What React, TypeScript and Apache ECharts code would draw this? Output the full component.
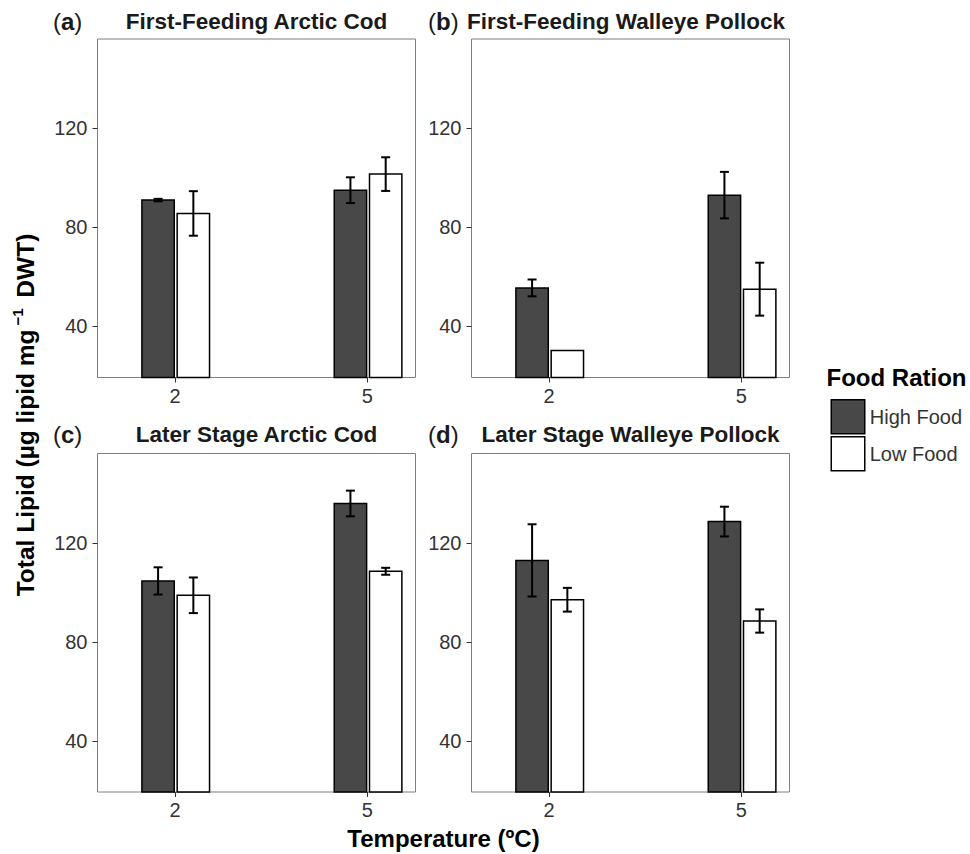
import React, { useEffect, useRef } from 'react';
import * as echarts from 'echarts';

const FONT = "'Liberation Sans', Arial, Helvetica, sans-serif";

// ---- data ----
const temperatures = [2, 5];
const panelLetters = ['a', 'b', 'c', 'd'];
const panelTitles = [
  'First-Feeding Arctic Cod',
  'First-Feeding Walleye Pollock',
  'Later Stage Arctic Cod',
  'Later Stage Walleye Pollock',
];
const rations = ['High Food', 'Low Food'];
// per panel, values at [2 ºC, 5 ºC]
const highFoodMeans = [[91.0, 95.0], [55.5, 93.0], [104.6, 135.9], [112.9, 128.6]];
const highFoodErrors = [[0.5, 5.2], [3.4, 9.4], [5.5, 5.2], [14.6, 6.0]];
const lowFoodMeans = [[85.6, 101.5], [30.2, 55.0], [98.8, 108.5], [97.0, 88.4]];
const lowFoodErrors = [[9.0, 6.8], [0, 10.7], [7.2, 1.4], [4.8, 4.7]];
const yTicks = [40, 80, 120];

// ---- layout / style ----
const DARK = '#484848';
const gridLefts = [97.5, 471.5, 97.5, 471.5];
const gridTops = [39, 39, 453.5, 453.5];
const GRID_W = 318;
const GRID_H = 338.5;
const X_MIN = 0.79;
const X_MAX = 5.75;
const Y_MIN = 19.3;
const Y_MAX = 156.1;
const BAR_W = 0.505;
const offsets = [-0.265, 0.285];
const fills = [DARK, '#ffffff'];
const titleCenters = [256.5, 626, 256.5, 630.5];
const titleYs = [21, 21, 434, 434];

const makeRender = (offset: number, fill: string) => (params: any, api: any) => {
  const x = api.value(0);
  const v = api.value(1);
  const e = api.value(2);
  const cs = params.coordSys;
  const bottom = cs.y + cs.height;
  const topPt = api.coord([x + offset, v]);
  const left = api.coord([x + offset - BAR_W / 2, v])[0];
  const right = api.coord([x + offset + BAR_W / 2, v])[0];
  const children: any[] = [
    {
      type: 'rect',
      shape: { x: left, y: topPt[1], width: right - left, height: bottom - topPt[1] },
      style: { fill, stroke: '#000', lineWidth: 1.5 },
    },
  ];
  if (e > 0) {
    const hi = api.coord([x + offset, v + e])[1];
    const lo = api.coord([x + offset, v - e])[1];
    const cx = topPt[0];
    const cap = 4.5;
    const ls = { stroke: '#000', lineWidth: 2 };
    children.push(
      { type: 'line', shape: { x1: cx, y1: hi, x2: cx, y2: lo }, style: ls },
      { type: 'line', shape: { x1: cx - cap, y1: hi, x2: cx + cap, y2: hi }, style: ls },
      { type: 'line', shape: { x1: cx - cap, y1: lo, x2: cx + cap, y2: lo }, style: ls }
    );
  }
  return { type: 'group', children };
};

function buildOption() {
  const grid = gridLefts.map((l, i) => ({
    left: l,
    top: gridTops[i],
    width: GRID_W,
    height: GRID_H,
    show: true,
    borderColor: '#7f7f7f',
    borderWidth: 1,
    backgroundColor: 'transparent',
  }));
  const xAxis = gridLefts.map((_, i) => ({
    type: 'value',
    gridIndex: i,
    min: X_MIN,
    max: X_MAX,
    splitLine: { show: false },
    axisLine: { show: false },
    axisTick: { show: true, customValues: temperatures, length: 5, lineStyle: { color: '#333', width: 1 } },
    axisLabel: { customValues: temperatures, fontSize: 20, color: '#333', margin: 8, fontFamily: FONT },
  }));
  const yAxis = gridLefts.map((_, i) => ({
    type: 'value',
    gridIndex: i,
    min: Y_MIN,
    max: Y_MAX,
    splitLine: { show: false },
    axisLine: { show: false },
    axisTick: { show: true, customValues: yTicks, length: 5, lineStyle: { color: '#333', width: 1 } },
    axisLabel: { customValues: yTicks, fontSize: 20, color: '#333', margin: 10, fontFamily: FONT },
  }));
  const series: any[] = [];
  for (let i = 0; i < 4; i++) {
    const groups = [
      [highFoodMeans[i], highFoodErrors[i]],
      [lowFoodMeans[i], lowFoodErrors[i]],
    ];
    groups.forEach(([means, errs], g) => {
      series.push({
        type: 'custom',
        name: rations[g],
        xAxisIndex: i,
        yAxisIndex: i,
        itemStyle: { color: fills[g], borderColor: '#000', borderWidth: 1.5 },
        data: temperatures.map((t, k) => [t, means[k], errs[k]]),
        renderItem: makeRender(offsets[g], fills[g]),
      });
    });
  }
  const graphic: any[] = [];
  for (let i = 0; i < 4; i++) {
    graphic.push({
      type: 'text',
      x: i % 2 === 0 ? 53 : 428,
      y: titleYs[i],
      style: {
        text: `{p|(}{b|${panelLetters[i]}}{p|)}`,
        rich: {
          p: { fontSize: 24, fontFamily: FONT, fill: '#1a1a1a' },
          b: { fontSize: 24, fontFamily: FONT, fontWeight: 'bold', fill: '#1a1a1a' },
        },
        align: 'left',
        verticalAlign: 'middle',
      },
    });
    graphic.push({
      type: 'text',
      x: titleCenters[i],
      y: titleYs[i],
      style: {
        text: panelTitles[i],
        fontSize: 22.5,
        fontWeight: 'bold',
        fontFamily: FONT,
        fill: '#1a1a1a',
        align: 'center',
        verticalAlign: 'middle',
      },
    });
  }
  graphic.push({
    type: 'text',
    x: 25,
    y: 415,
    rotation: Math.PI / 2,
    style: {
      text: '{b|Total Lipid (µg lipid mg}{s|−1}{b| DWT)}',
      rich: {
        b: { fontSize: 24.5, fontWeight: 'bold', fontFamily: FONT, lineHeight: 30, fill: '#000' },
        s: { fontSize: 15, fontWeight: 'bold', fontFamily: FONT, verticalAlign: 'top', fill: '#000', padding: [0, 4, 0, 4] },
      },
      align: 'center',
      verticalAlign: 'middle',
    },
  });
  graphic.push({
    type: 'text',
    x: 443.5,
    y: 838,
    style: {
      text: 'Temperature (ºC)',
      fontSize: 24,
      fontWeight: 'bold',
      fontFamily: FONT,
      fill: '#000',
      align: 'center',
      verticalAlign: 'middle',
    },
  });
  graphic.push({
    type: 'text',
    x: 826.5,
    y: 377,
    style: {
      text: 'Food Ration',
      fontSize: 24,
      fontWeight: 'bold',
      fontFamily: FONT,
      fill: '#000',
      align: 'left',
      verticalAlign: 'middle',
    },
  });

  return {
    animation: false,
    backgroundColor: '#ffffff',
    grid,
    xAxis,
    yAxis,
    series,
    legend: {
      show: true,
      orient: 'vertical',
      left: 825.5,
      top: 394,
      itemWidth: 33.5,
      itemHeight: 34,
      itemGap: 1.5,
      icon: 'rect',
      selectedMode: false,
      data: [
        { name: rations[0], icon: 'rect', itemStyle: { color: DARK, borderColor: '#000', borderWidth: 1.5 } },
        { name: rations[1], icon: 'rect', itemStyle: { color: '#ffffff', borderColor: '#000', borderWidth: 1.5 } },
      ],
      textStyle: { fontSize: 20, color: '#333', fontFamily: FONT },
    },
    graphic,
  };
}

export default function App() {
  const ref = useRef<HTMLDivElement>(null);
  useEffect(() => {
    const chart = echarts.init(ref.current!, null, { renderer: 'svg' });
    chart.setOption(buildOption() as any);
    return () => chart.dispose();
  }, []);
  return (
    <div
      ref={ref}
      style={{ position: 'absolute', left: 0, top: 0, width: 970, height: 854, background: '#fff' }}
    />
  );
}
